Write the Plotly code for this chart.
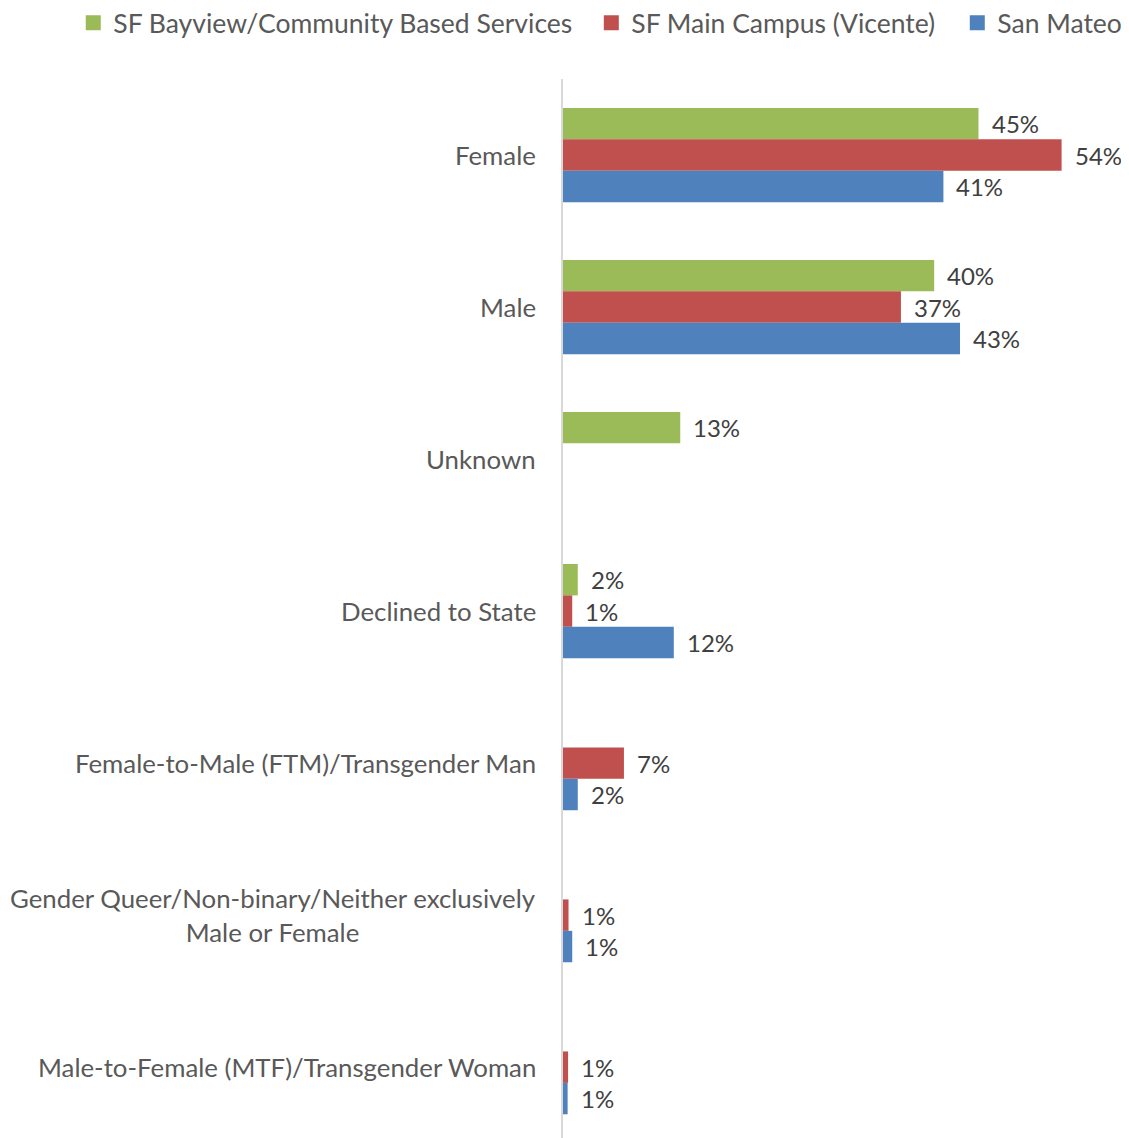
import plotly.graph_objects as go

categories = [
    "Female",
    "Male",
    "Unknown",
    "Declined to State",
    "Female-to-Male (FTM)/Transgender Man",
    "Gender Queer/Non-binary/Neither exclusively Male or Female",
    "Male-to-Female (MTF)/Transgender Woman",
]
cat_labels = [
    "Female",
    "Male",
    "Unknown",
    "Declined to State",
    "Female-to-Male (FTM)/Transgender Man",
    "Gender Queer/Non-binary/Neither exclusively<br>Male or Female",
    "Male-to-Female (MTF)/Transgender Woman",
]

series_names = ["SF Bayview/Community Based Services", "SF Main Campus (Vicente)", "San Mateo"]
bayview = [45.0, 40.2, 12.7, 1.6, None, None, None]
vicente = [54.0, 36.6, None, 1.0, 6.6, 0.6, 0.55]
san_mateo = [41.2, 43.0, None, 12.0, 1.6, 1.0, 0.5]
colors = ["#9BBB59", "#C0504D", "#4F81BD"]

FONT = "Lato"
FS = 25.8

fig = go.Figure()
all_series = [bayview, vicente, san_mateo]
legend_ids = ["legend", "legend2", "legend3"]
for name, vals, col, lg in zip(series_names, all_series, colors, legend_ids):
    fig.add_trace(
        go.Bar(
            y=categories,
            x=vals,
            name=name,
            orientation="h",
            marker=dict(color=col, line=dict(width=0)),
            showlegend=False,
            hoverinfo="x+y",
        )
    )
    # square legend swatch
    fig.add_trace(
        go.Scatter(
            x=[None],
            y=[None],
            mode="markers",
            name=name,
            marker=dict(symbol="square", size=15, color=col),
            legend=lg,
        )
    )

annotations = []
# data labels
for i, vals in enumerate(all_series):
    for cat, v in zip(categories, vals):
        if v is None:
            continue
        annotations.append(
            dict(
                x=v,
                y=cat,
                xref="x",
                yref="y",
                text=f"{int(v + 0.5)}%",
                showarrow=False,
                xanchor="left",
                yanchor="middle",
                xshift=11,
                yshift=(1 - i) * 31.5,
                font=dict(family=FONT, size=24, color="#404040"),
            )
        )
# category labels
for cat, lab in zip(categories, cat_labels):
    annotations.append(
        dict(
            x=0,
            y=cat,
            xref="x",
            yref="y",
            text=lab,
            showarrow=False,
            xanchor="right",
            yanchor="middle",
            align="center",
            xshift=-26.5,
            borderpad=0,
            font=dict(family=FONT, size=FS, color="#595959"),
        )
    )

legend_style = dict(
    orientation="h",
    yanchor="middle",
    y=1.0529,
    xanchor="left",
    font=dict(family=FONT, size=26.5, color="#595959"),
    bgcolor="rgba(0,0,0,0)",
    itemwidth=30,
)

# page body adds an 8px margin, so the figure is 8px smaller than the window
fig.update_layout(
    width=1121,
    height=1130,
    margin=dict(l=555, r=12, t=71, b=0, autoexpand=False),
    paper_bgcolor="white",
    plot_bgcolor="white",
    barmode="group",
    bargap=0.38,
    bargroupgap=0,
    font=dict(family=FONT, size=FS, color="#595959"),
    annotations=annotations,
    legend=dict(legend_style, x=-0.884),
    legend2=dict(legend_style, x=0.0511),
    legend3=dict(legend_style, x=0.7117),
    xaxis=dict(
        range=[0, 60],
        showgrid=False,
        zeroline=False,
        showticklabels=False,
        showline=False,
        fixedrange=True,
    ),
    yaxis=dict(
        type="category",
        categoryorder="array",
        categoryarray=categories,
        range=[6.466, -0.5],
        showgrid=False,
        zeroline=False,
        showticklabels=False,
        showline=True,
        linecolor="#D9D9D9",
        linewidth=2,
        ticks="",
        fixedrange=True,
    ),
)

fig.write_html("out.html")
